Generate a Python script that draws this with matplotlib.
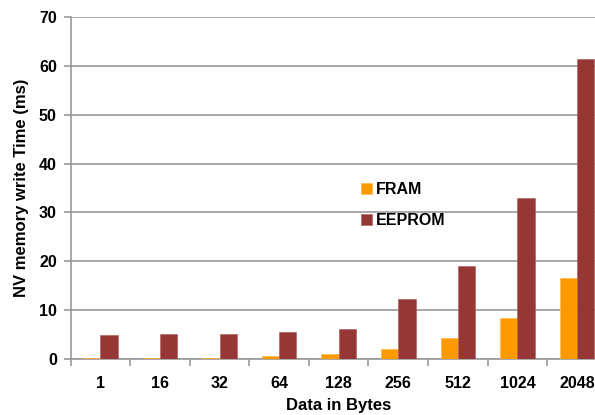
import numpy as np
import matplotlib
matplotlib.use("Agg")
import matplotlib.pyplot as plt
from matplotlib.ticker import FixedLocator

plt.rcParams['font.family'] = ['Liberation Sans', 'DejaVu Sans']
plt.rcParams['font.weight'] = 'bold'

sizes = ['1', '16', '32', '64', '128', '256', '512', '1024', '2048']
fram = [0.3, 0.3, 0.3, 0.6, 1.1, 2.1, 4.2, 8.3, 16.5]
eeprom = [4.9, 5.2, 5.2, 5.5, 6.1, 12.2, 19.1, 33.0, 61.5]

fig = plt.figure(figsize=(5.95, 4.15), dpi=100)
ax = fig.add_axes([0.1188, 0.1349, 0.9009, 0.8241])

x = np.arange(len(sizes))
w = 0.29
ax.bar(x - w/2, fram, w, color='#FF9900', edgecolor='#FFB84D', linewidth=0.5, label='FRAM', zorder=3)
ax.bar(x + w/2, eeprom, w, color='#953735', edgecolor='#B06663', linewidth=0.5, label='EEPROM', zorder=3)

ax.set_xlim(-0.5, len(sizes) - 0.5)
ax.set_ylim(0, 70)
ax.set_yticks(np.arange(0, 71, 10))
ax.yaxis.grid(True, color='#999999', linewidth=1.2, zorder=0)

ax.set_xticks(x)
ax.set_xticklabels(sizes)
ax.xaxis.set_minor_locator(FixedLocator(np.arange(-0.5, len(sizes), 1.0)))
ax.tick_params(axis='x', which='major', length=0, pad=12, labelsize=11.5)
ax.tick_params(axis='x', which='minor', length=5, color='#999999', width=1.2)
ax.tick_params(axis='y', length=5, color='#999999', width=1.2, pad=5, labelsize=11.5)

for s in ['top', 'right']:
    ax.spines[s].set_visible(False)
for s in ['left', 'bottom']:
    ax.spines[s].set_color('#999999')
    ax.spines[s].set_linewidth(1.2)

ax.set_xlabel('Data in Bytes', fontsize=12, fontweight='bold', labelpad=5)
ax.set_ylabel('NV memory write Time (ms)', fontsize=12, fontweight='bold', labelpad=7)

ax.legend(loc='upper left', bbox_to_anchor=(0.515, 0.56), frameon=False,
          handlelength=0.7, handleheight=0.7, handletextpad=0.2,
          labelspacing=1.0, fontsize=11.5)

fig.savefig('out.png', dpi=100)
